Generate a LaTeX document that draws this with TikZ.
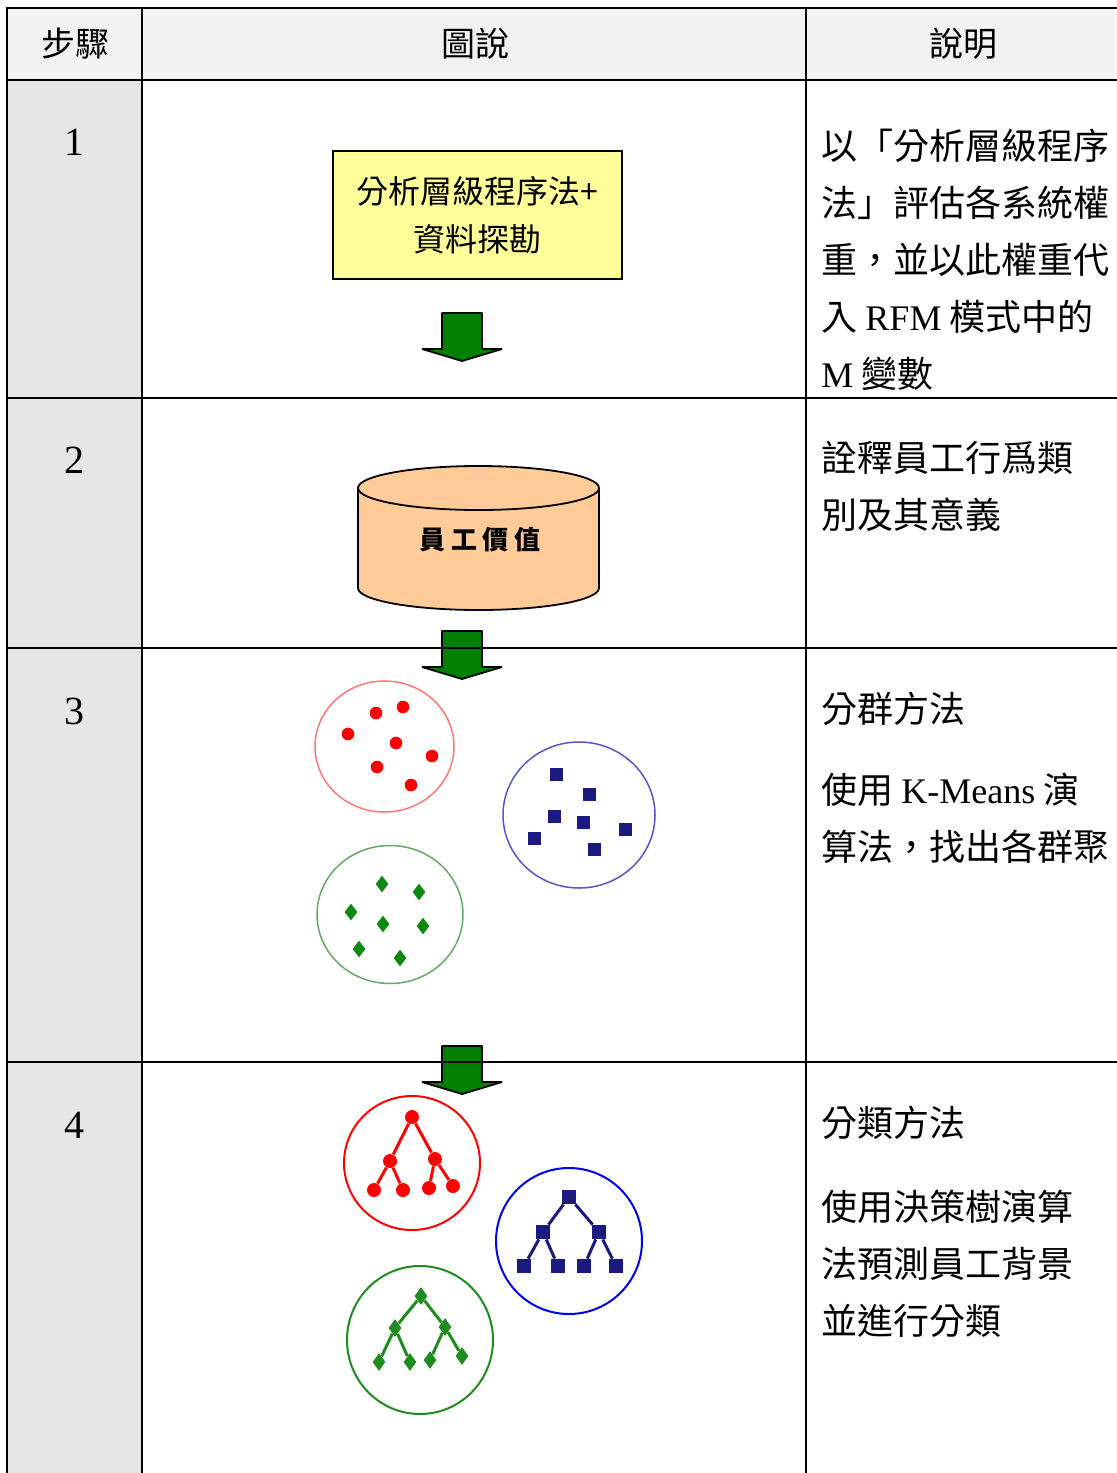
\documentclass[tikz,border=0pt]{standalone}
\usepackage{fontspec}
\setmainfont{Liberation Serif}
\newfontfamily\cjk{Noto Sans CJK TC}
\newfontfamily\latn{Liberation Serif}
\newcommand{\ltn}[1]{{\latn #1}}
\usetikzlibrary{shapes.geometric}
\definecolor{hdrgray}{HTML}{F2F2F2}
\definecolor{stepgray}{HTML}{E6E6E6}
\definecolor{boxyellow}{HTML}{FFFF99}
\definecolor{cylpeach}{HTML}{FFCC99}
\definecolor{arrowgreen}{HTML}{008000}
\definecolor{ringred}{HTML}{FF7777}
\definecolor{ringblue}{HTML}{5555CC}
\definecolor{ringgreen}{HTML}{66A866}
\definecolor{dotred}{HTML}{FF0000}
\definecolor{sqnavy}{HTML}{1A1A80}
\definecolor{dmgreen}{HTML}{0A8A0A}
\definecolor{treeblue}{HTML}{0000F0}
\definecolor{treegreen}{HTML}{1E8C1E}
\tikzset{
  tbl/.style={line width=1.2pt, line cap=rect},
  hdr/.style={font=\cjk\fontsize{17}{20}\selectfont},
  stepno/.style={font=\fontsize{20}{22}\selectfont},
  desc/.style={anchor=north west, inner sep=0pt, align=left,
    font=\cjk\fontsize{18}{28.5}\selectfont},
  blockarrow/.style={fill=arrowgreen, draw=black, line width=0.9pt, line join=bevel},
  cyl/.style={draw=black, line width=0.9pt},
  rdot/.style={circle, fill=dotred, inner sep=0pt, minimum size=6.3pt},
  nsq/.style={rectangle, fill=sqnavy, inner sep=0pt, minimum size=6.5pt},
  gdm/.style={diamond, fill=dmgreen, inner sep=0pt, minimum width=6.5pt, minimum height=8.5pt},
  rtree/.style={circle, fill=dotred, inner sep=0pt, minimum size=7pt},
  btree/.style={rectangle, fill=sqnavy, inner sep=0pt, minimum size=7pt},
  gtree/.style={diamond, fill=treegreen, inner sep=0pt, minimum width=6.5pt, minimum height=9pt}
}
\begin{document}
\begin{tikzpicture}[x=0.5pt, y=-0.5pt]
  \useasboundingbox (0,0) rectangle (1116,1473);
  % table background
  \fill[hdrgray] (7,8) rectangle (1116,80);
  \fill[stepgray] (7,80) rectangle (142,1473);

  % header and step numbers
  \node[hdr] (h1) at (75,44) {步驟};
  \node[hdr] (h2) at (475,44) {圖說};
  \node[hdr] (h3) at (963,44) {說明};
  \node[stepno] (s1) at (74,142) {1};
  \node[stepno] (s2) at (74,460) {2};
  \node[stepno] (s3) at (74,711) {3};
  \node[stepno] (s4) at (74,1125) {4};

  % descriptions
  \node[desc] (d1) at (821,129) {以「分析層級程序\\法」評估各系統權\\重，並以此權重代\\入\ \ltn{RFM}\ 模式中的\\\ltn{M} 變數};
  \node[desc] (d2) at (821,441) {詮釋員工行爲類\\別及其意義};
  \node[desc] (d3a) at (821,692) {分群方法};
  \node[desc] (d3b) at (821,773) {使用 \ltn{K-Means} 演\\算法，找出各群聚};
  \node[desc] (d4a) at (821,1106) {分類方法};
  \node[desc] (d4b) at (821,1190) {使用決策樹演算\\法預測員工背景\\並進行分類};

  % step 1
  \node[draw=black, fill=boxyellow, line width=1pt, minimum width=144.5pt, minimum height=64pt,
    align=center, font=\cjk\fontsize{16}{24}\selectfont] (ahp) at (477.5,215) {分析層級程序法+\\資料探勘};

  % step 2
  \fill[cylpeach] (358,488) -- (358,588) arc[start angle=180, end angle=0, x radius=120.5, y radius=22] -- (599,488) -- cycle;
  \draw[cyl] (358,488) -- (358,588) arc[start angle=180, end angle=0, x radius=120.5, y radius=22] -- (599,488);
  \draw[cyl, fill=cylpeach] (478.5,488) ellipse[x radius=120.5, y radius=22];
  \node[font=\cjk\bfseries\fontsize{13}{15}\selectfont] (val) at (480,540) {員 工 價 值};

  % down arrows
  \foreach \t in {313,631,1046}
    \draw[blockarrow] (442,\t) -- (482,\t) -- (482,\t+36) -- (502,\t+36) -- (462,\t+48)
      -- (422,\t+36) -- (442,\t+36) -- cycle;

  % step 3
  \draw[ringred, line width=0.75pt] (384.5,746.5) ellipse[x radius=69.5, y radius=65.5];
  \draw[ringblue, line width=0.75pt] (579,815) ellipse[x radius=76, y radius=73];
  \draw[ringgreen, line width=0.75pt] (390,914.5) ellipse[x radius=73, y radius=69];
  \path
    (376,713) node[rdot] (rd1) {}
    (403,707) node[rdot] (rd2) {}
    (348,734) node[rdot] (rd3) {}
    (396,743) node[rdot] (rd4) {}
    (432,756) node[rdot] (rd5) {}
    (377,767) node[rdot] (rd6) {}
    (411,785) node[rdot] (rd7) {};
  \path
    (556,774) node[nsq] (bs1) {}
    (589,794) node[nsq] (bs2) {}
    (554,816) node[nsq] (bs3) {}
    (583,822) node[nsq] (bs4) {}
    (625,829) node[nsq] (bs5) {}
    (534,838) node[nsq] (bs6) {}
    (594,849) node[nsq] (bs7) {};
  \path
    (382,884) node[gdm] (gd1) {}
    (419,892) node[gdm] (gd2) {}
    (351,912) node[gdm] (gd3) {}
    (383,924) node[gdm] (gd4) {}
    (423,926) node[gdm] (gd5) {}
    (359,949) node[gdm] (gd6) {}
    (400,958) node[gdm] (gd7) {};

  % step 4
  \draw[dotred, line width=1pt] (412,1163) ellipse[x radius=68, y radius=67];
  \draw[treeblue, line width=1pt] (569,1241) ellipse[x radius=73, y radius=73];
  \draw[treegreen, line width=1pt] (420,1340) ellipse[x radius=73, y radius=74];
  \path
    (412,1117) node[rtree] (r0) {}
    (390,1161) node[rtree] (r1) {}
    (435,1159) node[rtree] (r2) {}
    (374,1190) node[rtree] (r3) {}
    (403,1190) node[rtree] (r4) {}
    (429,1188) node[rtree] (r5) {}
    (453,1186) node[rtree] (r6) {};
  \path
    (569,1197) node[btree] (b0) {}
    (543,1232) node[btree] (b1) {}
    (599,1232) node[btree] (b2) {}
    (524,1266) node[btree] (b3) {}
    (558,1266) node[btree] (b4) {}
    (584,1266) node[btree] (b5) {}
    (616,1266) node[btree] (b6) {};
  \path
    (421,1296) node[gtree] (g0) {}
    (395,1328) node[gtree] (g1) {}
    (445,1327) node[gtree] (g2) {}
    (379,1362) node[gtree] (g3) {}
    (410,1362) node[gtree] (g4) {}
    (430,1360) node[gtree] (g5) {}
    (462,1356) node[gtree] (g6) {};
  \begin{scope}[dotred, line width=1.5pt]
    \draw (r0) to (r1);
    \draw (r0) to (r2);
    \draw (r1) to (r3);
    \draw (r1) to (r4);
    \draw (r2) to (r5);
    \draw (r2) to (r6);
  \end{scope}
  \begin{scope}[sqnavy, line width=1.5pt]
    \draw (b0) to (b1);
    \draw (b0) to (b2);
    \draw (b1) to (b3);
    \draw (b1) to (b4);
    \draw (b2) to (b5);
    \draw (b2) to (b6);
  \end{scope}
  \begin{scope}[treegreen, line width=1.5pt]
    \draw (g0) to (g1);
    \draw (g0) to (g2);
    \draw (g1) to (g3);
    \draw (g1) to (g4);
    \draw (g2) to (g5);
    \draw (g2) to (g6);
  \end{scope}

  % table rules
  \draw[tbl] (7,8) -- (1116,8);
  \draw[tbl] (7,80) -- (1116,80);
  \draw[tbl] (7,398) -- (1116,398);
  \draw[tbl] (7,648) -- (1116,648);
  \draw[tbl] (7,1062) -- (1116,1062);
  \draw[tbl] (7,8) -- (7,1473);
  \draw[tbl] (142,8) -- (142,1473);
  \draw[tbl] (806,8) -- (806,1473);
\end{tikzpicture}
\end{document}
